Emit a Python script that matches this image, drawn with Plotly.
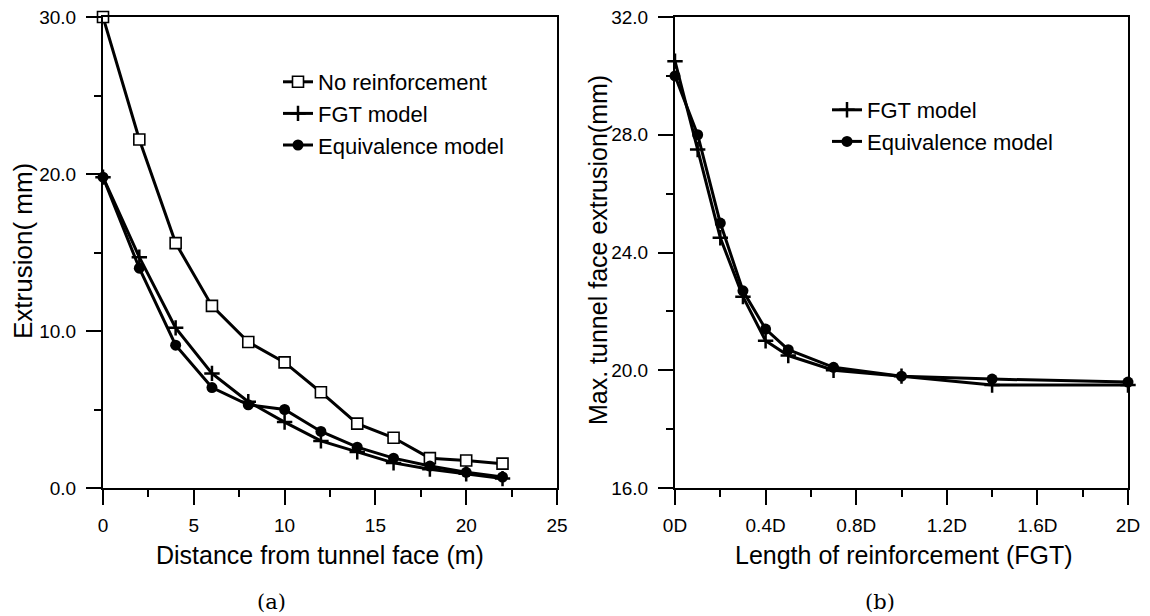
import plotly.graph_objects as go

# ---- data: panel (a) ----
dist_m = [0, 2, 4, 6, 8, 10, 12, 14, 16, 18, 20, 22]
no_reinf = [30.0, 22.2, 15.6, 11.6, 9.3, 8.0, 6.1, 4.1, 3.2, 1.9, 1.75, 1.55]
fgt_a = [19.8, 14.7, 10.2, 7.3, 5.5, 4.2, 3.0, 2.3, 1.6, 1.2, 0.9, 0.6]
equiv_a = [19.8, 14.0, 9.1, 6.4, 5.3, 5.0, 3.6, 2.6, 1.9, 1.4, 1.0, 0.7]

# ---- data: panel (b) ----
length_D = [0, 0.1, 0.2, 0.3, 0.4, 0.5, 0.7, 1.0, 1.4, 2.0]
fgt_b = [30.5, 27.5, 24.5, 22.5, 21.0, 20.5, 20.0, 19.8, 19.5, 19.5]
equiv_b = [30.0, 28.0, 25.0, 22.7, 21.4, 20.7, 20.1, 19.8, 19.7, 19.6]

b_tickvals = [0, 0.4, 0.8, 1.2, 1.6, 2.0]
b_ticktext = ["0D", "0.4D", "0.8D", "1.2D", "1.6D", "2D"]

# page body has an 8px margin; size the figure to fit the window
OFF = 8
W, H = 1150 - OFF, 616 - OFF
FONT = "Liberation Sans, Arial, sans-serif"

def px(x):
    return (x - OFF) / W

def py(y):
    return 1 - (y - OFF) / H

fig = go.Figure()

line_style = dict(color="black", width=3)
plus_marker = dict(symbol="cross-thin", size=11, color="black", line=dict(color="black", width=2.5))
dot_marker = dict(symbol="circle", size=11, color="black")

fig.add_trace(go.Scatter(x=dist_m, y=no_reinf, name="No reinforcement", mode="lines+markers",
                         line=line_style, cliponaxis=False,
                         marker=dict(symbol="square", size=11, color="white",
                                     line=dict(color="black", width=1.6)),
                         xaxis="x", yaxis="y", legend="legend"))
fig.add_trace(go.Scatter(x=dist_m, y=fgt_a, name="FGT model", mode="lines+markers",
                         line=line_style, cliponaxis=False, marker=plus_marker,
                         xaxis="x", yaxis="y", legend="legend"))
fig.add_trace(go.Scatter(x=dist_m, y=equiv_a, name="Equivalence model", mode="lines+markers",
                         line=line_style, cliponaxis=False, marker=dot_marker,
                         xaxis="x", yaxis="y", legend="legend"))

fig.add_trace(go.Scatter(x=length_D, y=fgt_b, name="FGT model", mode="lines+markers",
                         line=line_style, cliponaxis=False, marker=plus_marker,
                         xaxis="x2", yaxis="y2", legend="legend2"))
fig.add_trace(go.Scatter(x=length_D, y=equiv_b, name="Equivalence model", mode="lines+markers",
                         line=line_style, cliponaxis=False, marker=dot_marker,
                         xaxis="x2", yaxis="y2", legend="legend2"))

axis_common = dict(showline=True, linecolor="black", linewidth=2, mirror=True,
                   ticks="outside", ticklen=15, tickwidth=2, tickcolor="black",
                   showgrid=False, zeroline=False, automargin=False,
                   ticklabeloverflow="allow",
                   tickfont=dict(family=FONT, size=19, color="black"))

ydom = [py(488), py(17)]

fig.update_layout(
    width=W, height=H,
    margin=dict(l=0, r=0, t=0, b=0),
    paper_bgcolor="white", plot_bgcolor="white",
    xaxis=dict(domain=[px(103), px(557)], range=[0, 25], dtick=5, tick0=0,
               ticklabelstandoff=4,
               minor=dict(ticks="outside", ticklen=7, tickwidth=2, dtick=2.5, tick0=0,
                          tickcolor="black"),
               anchor="y", **axis_common),
    yaxis=dict(domain=ydom, range=[0, 30], dtick=10, tick0=0, tickformat=".1f",
               ticklabelstandoff=6,
               minor=dict(ticks="outside", ticklen=7, tickwidth=2, dtick=5, tick0=0,
                          tickcolor="black"),
               anchor="x", **axis_common),
    xaxis2=dict(domain=[px(675), px(1128)], range=[0, 2], tickmode="array",
                tickvals=b_tickvals, ticktext=b_ticktext,
                ticklabelstandoff=4,
                minor=dict(ticks="outside", ticklen=7, tickwidth=2, tickmode="linear",
                           dtick=0.2, tick0=0, tickcolor="black"),
                anchor="y2", **axis_common),
    yaxis2=dict(domain=ydom, range=[16, 32], dtick=4, tick0=16, tickformat=".1f",
                ticklabelstandoff=6,
                minor=dict(ticks="outside", ticklen=7, tickwidth=2, dtick=2, tick0=16,
                           tickcolor="black"),
                anchor="x2", **axis_common),
    legend=dict(x=px(278), y=py(61), xanchor="left", yanchor="top",
                bgcolor="rgba(0,0,0,0)", borderwidth=0,
                font=dict(family=FONT, size=22, color="black")),
    legend2=dict(x=px(827), y=py(89), xanchor="left", yanchor="top",
                 bgcolor="rgba(0,0,0,0)", borderwidth=0,
                 font=dict(family=FONT, size=22, color="black")),
    showlegend=True,
)

ann_font = dict(family=FONT, size=25, color="black")
annotations = [
    dict(text="Extrusion( mm)", x=px(23), y=py(251), textangle=-90, font=dict(family=FONT, size=26, color="black")),
    dict(text="Distance from tunnel face (m)", x=px(320), y=py(555), font=ann_font),
    dict(text="Max. tunnel face extrusion(mm)", x=px(598), y=py(250), textangle=-90, font=ann_font),
    dict(text="Length of reinforcement (FGT)", x=px(904), y=py(555), font=ann_font),
    dict(text="(a)", x=px(271), y=py(602), font=dict(family="DejaVu Serif, serif", size=21, color="black")),
    dict(text="(b)", x=px(880), y=py(602), font=dict(family="DejaVu Serif, serif", size=21, color="black")),
]
for a in annotations:
    a.update(xref="paper", yref="paper", showarrow=False, xanchor="center", yanchor="middle")
fig.update_layout(annotations=annotations)

fig.write_html("out.html")
